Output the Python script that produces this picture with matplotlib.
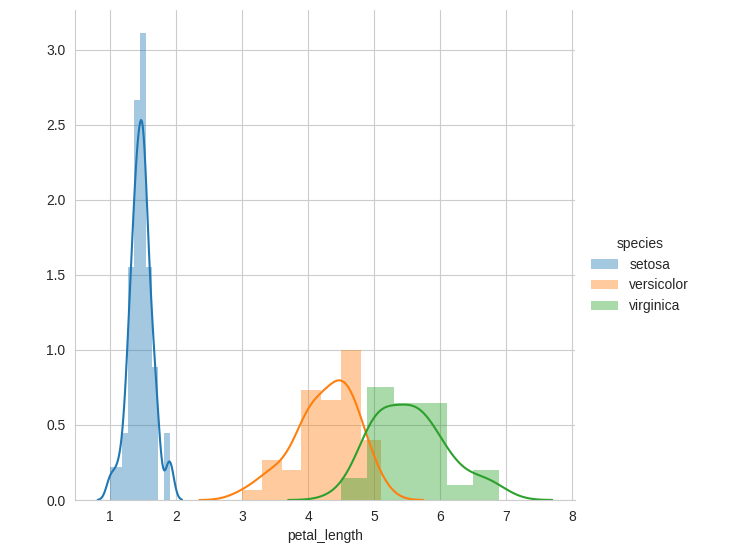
import numpy as np
import matplotlib
matplotlib.use("Agg")
import matplotlib.pyplot as plt
import matplotlib.patches as mpatches
import seaborn as sns

# iris petal_length by species
species = ["setosa", "versicolor", "virginica"]
setosa = [1.4, 1.4, 1.3, 1.5, 1.4, 1.7, 1.4, 1.5, 1.4, 1.5,
          1.5, 1.6, 1.4, 1.1, 1.2, 1.5, 1.3, 1.4, 1.7, 1.5,
          1.7, 1.5, 1.0, 1.7, 1.9, 1.6, 1.6, 1.5, 1.4, 1.6,
          1.6, 1.5, 1.5, 1.4, 1.5, 1.2, 1.3, 1.5, 1.3, 1.5,
          1.3, 1.3, 1.3, 1.6, 1.9, 1.4, 1.6, 1.4, 1.5, 1.4]
versicolor = [4.7, 4.5, 4.9, 4.0, 4.6, 4.5, 4.7, 3.3, 4.6, 3.9,
              3.5, 4.2, 4.0, 4.7, 3.6, 4.4, 4.5, 4.1, 4.5, 3.9,
              4.8, 4.0, 4.9, 4.7, 4.3, 4.4, 4.8, 5.0, 4.5, 3.5,
              3.8, 3.7, 3.9, 5.1, 4.5, 4.5, 4.7, 4.4, 4.1, 4.0,
              4.4, 4.6, 4.0, 3.3, 4.2, 4.2, 4.2, 4.3, 3.0, 4.1]
virginica = [6.0, 5.1, 5.9, 5.6, 5.8, 6.6, 4.5, 6.3, 5.8, 6.1,
             5.1, 5.3, 5.5, 5.0, 5.1, 5.3, 5.5, 6.7, 6.9, 5.0,
             5.7, 4.9, 6.7, 4.9, 5.7, 6.0, 4.8, 4.9, 5.6, 5.8,
             6.1, 6.4, 5.6, 5.1, 5.6, 6.1, 5.6, 5.5, 4.8, 5.4,
             5.6, 5.1, 5.1, 5.9, 5.7, 5.2, 5.0, 5.2, 5.4, 5.1]
values = [setosa, versicolor, virginica]
n_bins = [10, 7, 6]

sns.set_style("whitegrid")
plt.rcParams['font.family'] = ['Liberation Sans', 'DejaVu Sans']

colors = ["#1f77b4", "#ff7f0e", "#2ca02c"]


def scott_bw(x):
    q75, q25 = np.percentile(x, [75, 25])
    a = min(np.std(x, ddof=1), (q75 - q25) / 1.349)
    return 1.059 * a * len(x) ** (-0.2)


def kde(x, cut=3, gridsize=100):
    x = np.asarray(x)
    bw = scott_bw(x)
    grid = np.linspace(x.min() - cut * bw, x.max() + cut * bw, gridsize)
    z = (grid[:, None] - x[None, :]) / bw
    dens = np.exp(-0.5 * z ** 2).sum(axis=1) / (len(x) * bw * np.sqrt(2 * np.pi))
    return grid, dens


fig = plt.figure(figsize=(7.35, 5.5), dpi=100)
ax = fig.add_axes([75 / 735, 50 / 550, 500 / 735, 490 / 550])

for vals, nb, c in zip(values, n_bins, colors):
    ax.hist(vals, bins=nb, density=True, color=c, alpha=0.4, linewidth=0)
    gx, gy = kde(vals)
    ax.plot(gx, gy, color=c, lw=1.5)

ax.set_xticks(range(1, 9))
ax.set_yticks(np.arange(0, 3.01, 0.5))
ax.set_xlabel("petal_length", fontsize=10, color=".15")
ax.tick_params(labelsize=10, colors=".15")
for s in ["top", "right"]:
    ax.spines[s].set_visible(False)

handles = [mpatches.Patch(color=c, alpha=0.4, linewidth=0) for c in colors]
fig.legend(handles, species, title="species", loc="center left",
           bbox_to_anchor=(578 / 735, 0.5), frameon=False,
           fontsize=10, title_fontsize=10)

fig.savefig("out.png", dpi=100)
